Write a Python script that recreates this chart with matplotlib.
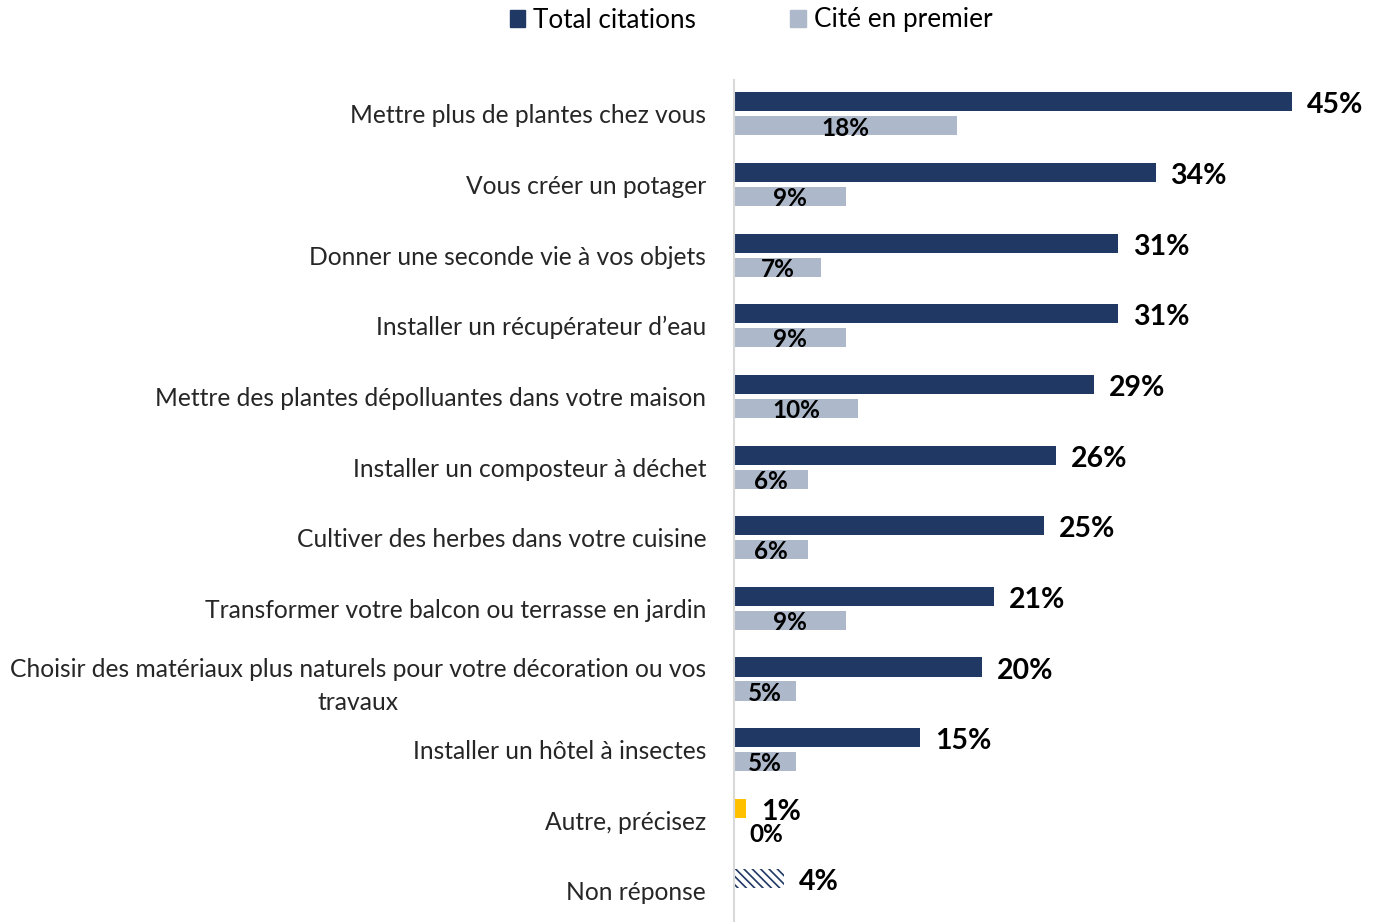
import numpy as np
import matplotlib
matplotlib.use("Agg")
from matplotlib import pyplot as plt
from matplotlib.patches import Patch

categories = [
    "Mettre plus de plantes chez vous",
    "Vous créer un potager",
    "Donner une seconde vie à vos objets",
    "Installer un récupérateur d\u2019eau",
    "Mettre des plantes dépolluantes dans votre maison",
    "Installer un composteur à déchet",
    "Cultiver des herbes dans votre cuisine",
    "Transformer votre balcon ou terrasse en jardin",
    "Choisir des matériaux plus naturels pour votre décoration ou vos\ntravaux",
    "Installer un hôtel à insectes",
    "Autre, précisez",
    "Non réponse",
]
total = [45, 34, 31, 31, 29, 26, 25, 21, 20, 15, 1, 4]
premier = [18, 9, 7, 9, 10, 6, 6, 9, 5, 5, 0, None]

navy = "#203864"
light = "#ADB9CA"
yellow = "#FFC000"

plt.rcParams['font.family'] = ['Lato', 'DejaVu Sans']
plt.rcParams['hatch.linewidth'] = 1.2

fig = plt.figure(figsize=(13.73, 9.22), dpi=100)
ax = fig.add_axes([734/1373, 0, 1 - 734/1373 - 19/1373, 1 - 80/922])

y = np.arange(len(categories))
h = 0.27
off = 0.17

for i, v in enumerate(total):
    if categories[i] == "Autre, précisez":
        ax.barh(y[i] - off, v, height=h, color=yellow)
    elif categories[i] == "Non réponse":
        ax.barh(y[i] - off, v, height=h, color="white", edgecolor=navy,
                hatch="\\\\\\\\", linewidth=0)
    else:
        ax.barh(y[i] - off, v, height=h, color=navy)
    ax.text(v + 1.2, y[i] - off + 0.05, f"{v}%", ha="left", va="center",
            fontsize=20.5, fontweight="bold", color="black")

for i, v in enumerate(premier):
    if v is None:
        continue
    ax.barh(y[i] + off, v, height=h, color=light)
    xpos = v / 2 if v > 0 else 2.6
    ax.text(xpos, y[i] + off + 0.03, f"{v}%", ha="center", va="center",
            fontsize=17.5, fontweight="bold", color="black")

ax.set_xlim(0, 50)
ax.set_ylim(11.44, -0.48)
ax.set_yticks(y)
ax.set_yticklabels(categories, fontsize=17.7, color="#262626",
                   multialignment="center", linespacing=1.5)
ax.tick_params(axis="y", length=0, pad=20)
ax.set_xticks([])
for s in ["top", "right", "bottom"]:
    ax.spines[s].set_visible(False)
ax.spines["left"].set_color("#D9D9D9")
ax.spines["left"].set_linewidth(1.5)

handles = [Patch(color=navy, label="Total citations"),
           Patch(color=light, label="Cité en premier")]
fig.legend(handles=handles, loc="center", bbox_to_anchor=(751/1373, 1 - 20/922),
           ncol=2, frameon=False, fontsize=18.8, handlelength=0.6, handleheight=0.6,
           handletextpad=0.3, columnspacing=3.6)

fig.savefig("out.png", dpi=100)
